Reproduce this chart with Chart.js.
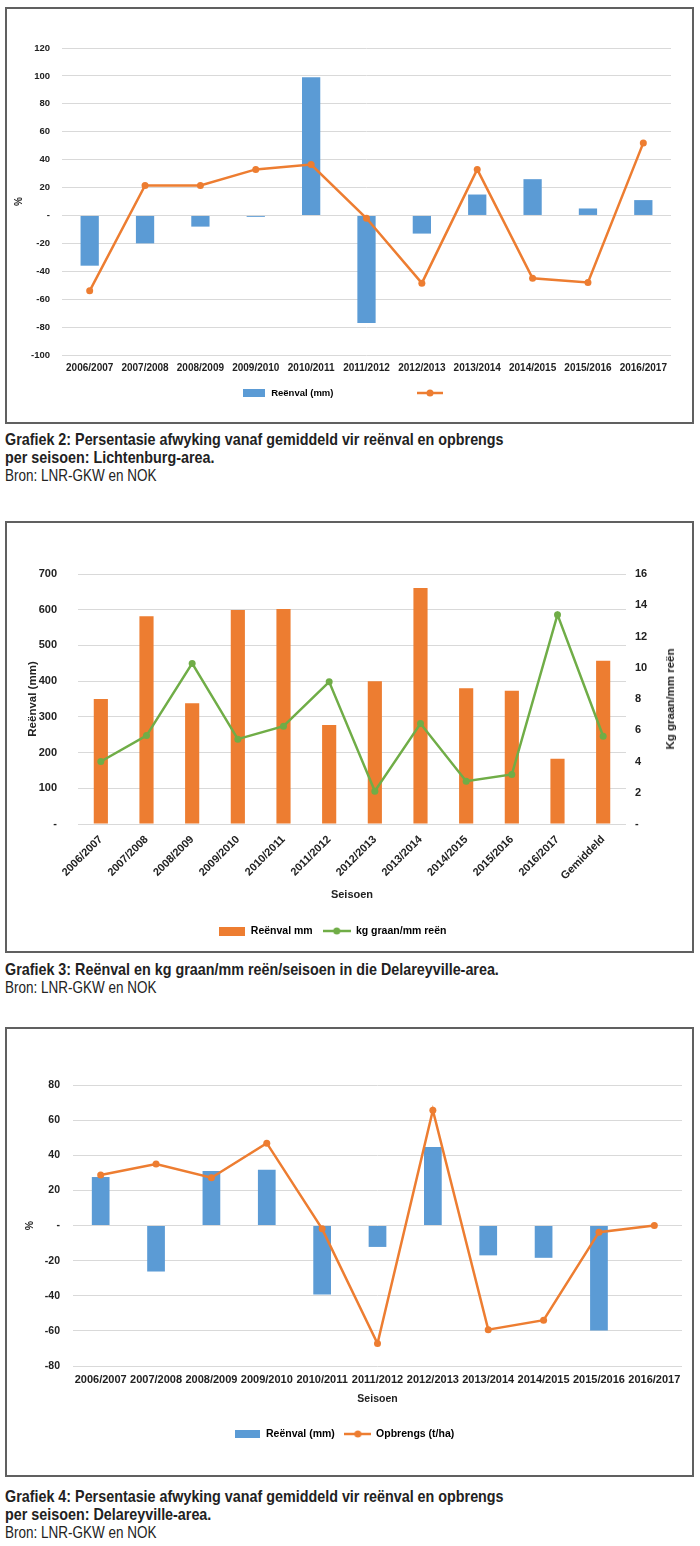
<!DOCTYPE html>
<html>
<head>
<meta charset="utf-8">
<script src="https://cdn.jsdelivr.net/npm/chart.js@4.4.1/dist/chart.umd.min.js"></script>
<style>
  body { margin: 0; width: 700px; height: 1546px; background: #fff; position: relative;
         font-family: 'Liberation Sans', Arial, sans-serif; color: #222; overflow: hidden; }
  .box { position: absolute; left: 5px; width: 685px; border: 2px solid #606060; background: #fff; }
  .box canvas { display: block; }
  /* condensed look of the caption type */
  .cap { position: absolute; left: 5px; font-size: 17px; line-height: 18px; white-space: nowrap;
         transform: scaleX(0.843); transform-origin: 0 0; }
  .cap .src { font-size: 16px; }
  .ytitle { position: absolute; font-weight: bold; font-size: 11.5px; white-space: nowrap;
            transform: translate(-50%, -50%) rotate(-90deg); }
</style>
</head>
<body>

<div class="box" style="top:7px;height:413px"><canvas id="chartLicht" width="685" height="413"></canvas></div>
<div class="cap" style="top:431px"><b>Grafiek 2: Persentasie afwyking vanaf gemiddeld vir reënval en opbrengs<br>per seisoen: Lichtenburg-area.</b><br><span class="src">Bron: LNR-GKW en NOK</span></div>

<div class="box" style="top:521px;height:428px"><canvas id="chartDelKg" width="685" height="428"></canvas></div>
<div class="ytitle" style="left:670px;top:699px">Kg graan/mm reën</div>
<div class="cap" style="top:961px"><b>Grafiek 3: Reënval en kg graan/mm reën/seisoen in die Delareyville-area.</b><br><span class="src">Bron: LNR-GKW en NOK</span></div>

<div class="box" style="top:1027px;height:446px"><canvas id="chartDelPct" width="685" height="446"></canvas></div>
<div class="cap" style="top:1488px"><b>Grafiek 4: Persentasie afwyking vanaf gemiddeld vir reënval en opbrengs<br>per seisoen: Delareyville-area.</b><br><span class="src">Bron: LNR-GKW en NOK</span></div>

<script>
// --- data ---
const seasons = ["2006/2007", "2007/2008", "2008/2009", "2009/2010", "2010/2011", "2011/2012",
                 "2012/2013", "2013/2014", "2014/2015", "2015/2016", "2016/2017"];
const seasonsAvg = seasons.concat(["Gemiddeld"]);

// Grafiek 2 - Lichtenburg, % afwyking
const lichtRain = [-36, -20, -8, -1, 99, -77, -13, 15, 26, 5, 11];
const lichtYield = [-54, 21.5, 21.5, 33, 36.5, -2, -48.5, 33, -45, -48, 52];

// Grafiek 3 - Delareyville, mm en kg/mm
const delRainMm = [350, 582, 338, 599, 602, 277, 400, 661, 380, 373, 183, 457];
const delKgPerMm = [4.0, 5.66, 10.28, 5.43, 6.26, 9.1, 2.1, 6.43, 2.74, 3.17, 13.4, 5.62];

// Grafiek 4 - Delareyville, % afwyking
const delRainPct = [27.6, -26.2, 31, 31.7, -39.3, -12.2, 44.7, -17, -18.4, -59.8, 0];
const delYieldPct = [28.7, 35, 27.2, 46.9, -1.9, -67.2, 65.6, -59.3, -53.9, -3.8, 0];

// axis ranges
const lichtAxis = { min: -100, max: 120, step: 20 };
const mmAxis = { min: 0, max: 700, step: 100 };
const kgAxis = { min: 0, max: 16, step: 2 };
const delPctAxis = { min: -80, max: 80, step: 20 };

// --- style ---
const blue = "#5B9BD5";
const orange = "#ED7D31";
const green = "#70AD47";
const gridColor = "#d9d9d9";

Chart.defaults.font.family = "'Liberation Sans', Arial, sans-serif";
Chart.defaults.font.weight = "bold";
Chart.defaults.color = "#222";
Chart.defaults.animation = false;

const dashZero = v => (v === 0 ? "-" : v);
const fixWidth = w => s => { s.width = w; };
const fixHeight = h => s => { s.height = h; };

// legend glyphs (Excel style)
function boxIcon(color, w, h) {
  const c = document.createElement("canvas");
  c.width = w; c.height = h;
  const g = c.getContext("2d");
  g.fillStyle = color;
  g.fillRect(0, 0, w, h);
  return c;
}
function lineIcon(color, len, shift) {
  const c = document.createElement("canvas");
  c.width = len + 2 * shift; c.height = 10;
  const g = c.getContext("2d");
  const cx = c.width / 2 + shift;
  g.strokeStyle = color; g.lineWidth = 2.5;
  g.beginPath(); g.moveTo(cx - len / 2, 5); g.lineTo(cx + len / 2, 5); g.stroke();
  g.fillStyle = color;
  g.beginPath(); g.arc(cx, 5, 3.5, 0, Math.PI * 2); g.fill();
  return c;
}
function legendOpts(size, width, items) {
  return {
    position: "bottom",
    labels: {
      usePointStyle: true, pointStyleWidth: width, padding: 10, font: { size: size },
      generateLabels: () => items.map((it, i) => ({ text: it[0], pointStyle: it[1], lineWidth: 0, hidden: false, datasetIndex: i }))
    }
  };
}
function lineSet(data, color, extra) {
  return Object.assign({ type: "line", data: data, borderColor: color, backgroundColor: color,
    borderWidth: 2.5, pointRadius: 3.5, pointBorderWidth: 0, tension: 0, order: 0 }, extra);
}

// --- Grafiek 2 ---
new Chart(document.getElementById("chartLicht"), {
  type: "bar",
  data: {
    labels: seasons,
    datasets: [
      lineSet(lichtYield, orange, { label: "" }),
      { type: "bar", label: "Reënval (mm)", data: lichtRain, backgroundColor: blue,
        barPercentage: 0.33, categoryPercentage: 1, order: 1 }
    ]
  },
  options: {
    responsive: false,
    layout: { padding: { top: 39, right: 21, bottom: 14.25, left: 0 } },
    plugins: {
      tooltip: { enabled: false },
      legend: legendOpts(9.5, 24, [
        ["Reënval (mm)", boxIcon(blue, 22, 8)],
        [" ".repeat(24), lineIcon(orange, 26, 74.5)]   // unnamed series, Excel keeps the room
      ])
    },
    scales: {
      x: { grid: { display: false, drawTicks: false }, border: { display: false },
           ticks: { font: { size: 10 }, padding: 7, maxRotation: 0, autoSkip: false },
           afterFit: fixHeight(23.25) },
      y: { min: lichtAxis.min, max: lichtAxis.max,
           ticks: { stepSize: lichtAxis.step, font: { size: 9.5 }, padding: 12, callback: dashZero },
           grid: { color: gridColor, drawTicks: false }, border: { display: false },
           title: { display: true, text: "%", font: { size: 10 }, padding: { top: 6, bottom: 0 } },
           afterFit: fixWidth(55) }
    }
  }
});

// --- Grafiek 3 ---
new Chart(document.getElementById("chartDelKg"), {
  type: "bar",
  data: {
    labels: seasonsAvg,
    datasets: [
      lineSet(delKgPerMm, green, { label: "kg graan/mm reën", yAxisID: "y1" }),
      { type: "bar", label: "Reënval mm", data: delRainMm, backgroundColor: orange,
        barPercentage: 0.31, categoryPercentage: 1, order: 1, yAxisID: "y" }
    ]
  },
  options: {
    responsive: false,
    layout: { padding: { top: 51, right: 0, bottom: 4.75, left: 0 } },
    plugins: {
      tooltip: { enabled: false },
      legend: legendOpts(10.5, 28, [
        ["Reënval mm", boxIcon(orange, 26, 9)],
        ["kg graan/mm reën" + " ".repeat(12), lineIcon(green, 28, 0)]
      ])
    },
    scales: {
      x: { grid: { display: false, drawTicks: false }, border: { display: false },
           ticks: { font: { size: 11 }, padding: 9, minRotation: 45, maxRotation: 45, autoSkip: false },
           title: { display: true, text: "Seisoen", font: { size: 11 }, padding: { top: 4, bottom: 14 } },
           afterFit: fixHeight(91.75) },
      y: { position: "left", min: mmAxis.min, max: mmAxis.max,
           ticks: { stepSize: mmAxis.step, font: { size: 11 }, padding: 21, callback: dashZero },
           grid: { color: gridColor, drawTicks: false }, border: { display: false },
           title: { display: true, text: "Reënval (mm)", font: { size: 11.5 }, padding: { top: 18.5, bottom: 0 } },
           afterFit: fixWidth(71) },
      y1: { position: "right", min: kgAxis.min, max: kgAxis.max,
            ticks: { stepSize: kgAxis.step, font: { size: 11 }, padding: 9, callback: dashZero },
            grid: { display: false, drawTicks: false }, border: { display: false },
            afterFit: fixWidth(66) }
    }
  }
});

// --- Grafiek 4 ---
new Chart(document.getElementById("chartDelPct"), {
  type: "bar",
  data: {
    labels: seasons,
    datasets: [
      lineSet(delYieldPct, orange, { label: "Opbrengs (t/ha)" }),
      { type: "bar", label: "Reënval (mm)", data: delRainPct, backgroundColor: blue,
        barPercentage: 0.32, categoryPercentage: 1, order: 1 }
    ]
  },
  options: {
    responsive: false,
    layout: { padding: { top: 56, right: 10, bottom: 25.75, left: 0 } },
    plugins: {
      tooltip: { enabled: false },
      legend: legendOpts(10.5, 26, [
        ["Reënval (mm)", boxIcon(blue, 25, 8)],
        ["Opbrengs (t/ha)", lineIcon(orange, 27, 0)]
      ])
    },
    scales: {
      x: { grid: { display: false, drawTicks: false }, border: { display: false },
           ticks: { font: { size: 11 }, padding: 7.4, maxRotation: 0, autoSkip: false },
           title: { display: true, text: "Seisoen", font: { size: 10.5 }, padding: { top: 4, bottom: 13.5 } },
           afterFit: fixHeight(52.75) },
      y: { min: delPctAxis.min, max: delPctAxis.max,
           ticks: { stepSize: delPctAxis.step, font: { size: 10.5 }, padding: 13, callback: dashZero },
           grid: { color: gridColor, drawTicks: false }, border: { display: false },
           title: { display: true, text: "%", font: { size: 10.5 }, padding: { top: 17, bottom: 0 } },
           afterFit: fixWidth(66) }
    }
  }
});
</script>
</body>
</html>
